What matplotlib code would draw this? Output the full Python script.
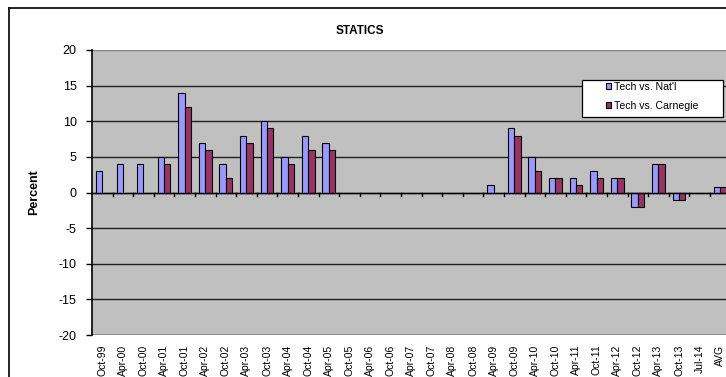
import numpy as np
import matplotlib.pyplot as plt
from matplotlib.patches import Patch, Rectangle
from matplotlib.lines import Line2D

plt.rcParams['font.family'] = ['Liberation Sans', 'DejaVu Sans']
plt.rcParams['axes.unicode_minus'] = False

periods = ["Oct-99", "Apr-00", "Oct-00", "Apr-01", "Oct-01", "Apr-02", "Oct-02",
           "Apr-03", "Oct-03", "Apr-04", "Oct-04", "Apr-05", "Oct-05", "Apr-06",
           "Oct-06", "Apr-07", "Oct-07", "Apr-08", "Oct-08", "Apr-09", "Oct-09",
           "Apr-10", "Oct-10", "Apr-11", "Oct-11", "Apr-12", "Oct-12", "Apr-13",
           "Oct-13", "Jul-14", "AVG"]
tech_vs_natl = [3, 4, 4, 5, 14, 7, 4, 8, 10, 5, 8, 7, None, None, None, None,
                None, None, None, 1, 9, 5, 2, 2, 3, 2, -2, 4, -1, None, 0.8]
tech_vs_carnegie = [None, None, None, 4, 12, 6, 2, 7, 9, 4, 6, 6, None, None,
                    None, None, None, None, None, None, 8, 3, 2, 1, 2, 2, -2, 4,
                    -1, None, 0.8]

natl = np.array(tech_vs_natl, dtype=float)
carn = np.array(tech_vs_carnegie, dtype=float)
x = np.arange(len(periods))

W, H = 726, 377
fig = plt.figure(figsize=(W / 100, H / 100), dpi=100)
fig.patch.set_facecolor('white')

# outer chart frame (right and bottom edges run off the canvas)
fig.add_artist(Line2D([9 / W, 9 / W], [0, 1 - 8 / H], color='black', lw=1.2))
fig.add_artist(Line2D([9 / W, 1], [1 - 8 / H, 1 - 8 / H], color='black', lw=1.2))

left, right = 92 / W, 730.5 / W
top, bottom = 1 - 50 / H, 1 - 335 / H
ax = fig.add_axes([left, bottom, right - left, top - bottom])
ax.set_facecolor('#C0C0C0')

bw = 0.31
ax.bar(x - bw / 2, natl, bw, color='#9999FF', edgecolor='black', lw=0.8,
       zorder=3)
ax.bar(x + bw / 2, carn, bw, color='#993366', edgecolor='black', lw=0.8,
       zorder=3)

ax.set_xlim(-0.5, len(periods) - 0.5)
ax.set_ylim(-20, 20)
ax.set_yticks(np.arange(-20, 21, 5))
for v in np.arange(-15, 20, 5):
    ax.axhline(v, color='#202020', lw=1, zorder=1)
ax.axhline(0, color='black', lw=1, zorder=4)

for s in ['top', 'right', 'bottom']:
    ax.spines[s].set_visible(False)
ax.spines['left'].set_color('black')
ax.spines['left'].set_linewidth(1.2)
ax.axhline(20, color='#808080', lw=1, zorder=1)
ax.axhline(-20, color='#808080', lw=1.2, zorder=1)

ax.tick_params(axis='y', direction='out', length=4, width=1, labelsize=9,
               pad=7)

# category boundary ticks hanging from the zero line
ax.set_xticks([])
for b in np.arange(0.5, len(periods) - 1, 1.0):
    ax.plot([b, b], [0, -0.45], color='black', lw=1, zorder=4,
            clip_on=False)

sec = ax.secondary_xaxis('bottom')
sec.set_xticks(x)
sec.set_xticklabels(periods, rotation=90, fontsize=7.5)
sec.tick_params(length=0, pad=7)
sec.spines['bottom'].set_visible(False)

ax.set_ylabel('Percent', fontsize=9, fontweight='bold')
ax.yaxis.set_label_coords((40 - 92) / (730.5 - 92), 0.5)
fig.text(360 / W, 1 - 31 / H, 'STATICS', ha='center', va='center',
         fontsize=8.5, fontweight='bold')

# legend box
fig.add_artist(Rectangle((581.5 / W, 1 - 117 / H), (723 - 581.5) / W,
                         37 / H, facecolor='white', edgecolor='black',
                         lw=0.9, zorder=5))
handles = [Patch(facecolor='#9999FF', edgecolor='black', lw=0.8),
           Patch(facecolor='#993366', edgecolor='black', lw=0.8)]
leg = fig.legend(handles, ["Tech vs. Nat'l", "Tech vs. Carnegie"],
                 loc='upper left', bbox_to_anchor=(606 / W, 1 - 82 / H),
                 fontsize=7.6, frameon=False,
                 handlelength=0.5, handleheight=0.5, handletextpad=0.25,
                 borderpad=0, labelspacing=0.85, borderaxespad=0)
leg.set_zorder(6)

fig.savefig('out.png', dpi=100)
